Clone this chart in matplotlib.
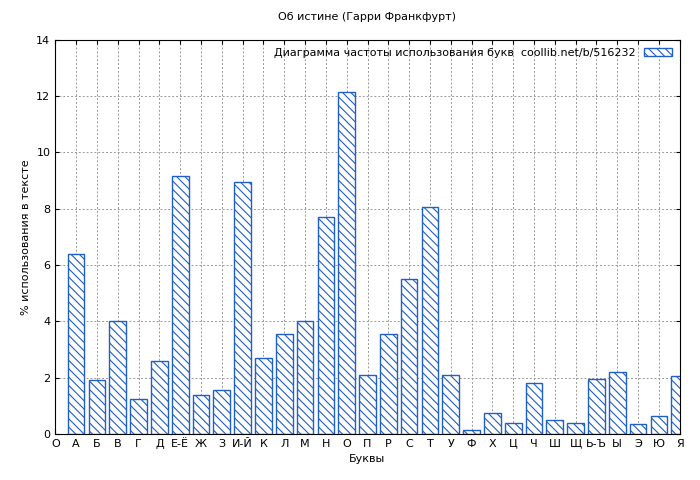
import matplotlib
matplotlib.use('Agg')
import matplotlib.pyplot as plt

labels = ['О', 'А', 'Б', 'В', 'Г', 'Д', 'Е-Ё', 'Ж', 'З', 'И-Й', 'К', 'Л', 'М', 'Н', 'О', 'П',
          'Р', 'С', 'Т', 'У', 'Ф', 'Х', 'Ц', 'Ч', 'Ш', 'Щ', 'Ь-Ъ', 'Ы', 'Э', 'Ю', 'Я']
values = [6.4, 1.9, 4.0, 1.25, 2.6, 9.15, 1.4, 1.55, 8.95, 2.7, 3.55, 4.0, 7.7, 12.15, 2.1,
          3.55, 5.5, 8.05, 2.1, 0.15, 0.75, 0.4, 1.8, 0.5, 0.4, 1.95, 2.2, 0.35, 0.65, 2.05]

plt.rcParams['font.size'] = 8
plt.rcParams['hatch.color'] = '#1f5fc8'
plt.rcParams['hatch.linewidth'] = 0.8

fig = plt.figure(figsize=(7, 4.8), dpi=100)
ax = fig.add_axes([0.079, 0.096, 0.892, 0.821])

pos = list(range(1, len(values) + 1))
ax.bar(pos, values, width=0.8, facecolor='white', edgecolor='#1f5fc8', linewidth=1,
       hatch='\\\\\\\\', label='Диаграмма частоты использования букв  coollib.net/b/516232', zorder=2)

ax.set_xlim(0, 30)
ax.set_ylim(0, 14)
ax.set_xticks(range(0, 31))
ax.set_xticklabels(labels)
ax.set_yticks(range(0, 15, 2))
ax.grid(True, linestyle=(0, (2, 2)), color='#999999', linewidth=0.7, zorder=0)
ax.tick_params(direction='in', length=3, top=True, right=True)
ax.set_title('Об истине (Гарри Франкфурт)', fontsize=8, pad=14)
ax.set_xlabel('Буквы')
ax.set_ylabel('% использования в тексте')
leg = ax.legend(loc='upper right', frameon=False, markerfirst=False, handlelength=2.5,
                handleheight=0.8, borderaxespad=0.3)
fig.savefig('out.png')
